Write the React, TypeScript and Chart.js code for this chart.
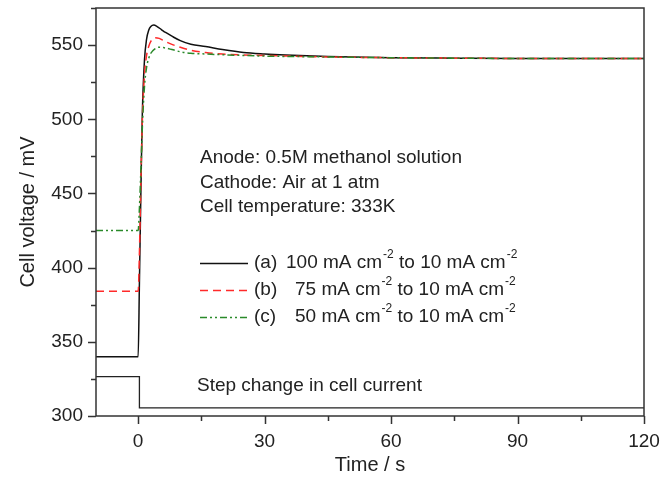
import React, { useEffect, useRef } from "react";
import { Chart, registerables } from "chart.js";

Chart.register(...registerables);

// Data
const timeA = [-10, 0, 0.3, 0.7, 1, 1.5, 2, 2.5, 3, 3.7, 4.5, 5.5, 6.5, 8, 10, 12.5, 16, 20, 25, 30, 35, 45, 60, 75, 90, 105, 120];
const voltA = [340, 340, 390, 460, 505, 540, 554, 560, 562.5, 563.5, 562.5, 560.5, 558.5, 556, 553, 550.5, 549, 547, 545, 544, 543.3, 542.3, 541.5, 541.2, 541, 541, 541];

const timeB = [-10, 0, 0.3, 0.7, 1, 1.5, 2, 2.5, 3, 4, 5, 6, 8, 10, 12.5, 16, 20, 25, 30, 45, 60, 75, 90, 105, 120];
const voltB = [384, 384, 410, 465, 500, 530, 543, 549, 552.5, 555, 554.5, 553, 550.5, 548.5, 546.5, 545, 544, 543.3, 543, 542, 541.5, 541.2, 541, 541, 541];

const timeC = [-10, 0, 0.3, 0.7, 1, 1.5, 2, 2.5, 3, 4, 5, 6, 8, 10, 12.5, 16, 20, 25, 30, 45, 60, 75, 90, 105, 120];
const voltC = [425, 425, 440, 470, 495, 522, 535, 541, 544.5, 547.5, 548.6, 548.3, 547, 545.5, 544.5, 544, 543.5, 543, 542.6, 542, 541.5, 541.2, 541, 541, 541];

const stepTime = [-10, 0.3, 0.3, 120];
const stepLevel = [326.5, 326.5, 305.5, 305.5];

const xMajorTicks = [0, 30, 60, 90, 120];
const xMinorTicks = [15, 45, 75, 105];
const yMajorTicks = [300, 350, 400, 450, 500, 550];
const yMinorTicks = [325, 375, 425, 475, 525, 575];

const seriesLabels = ["(a)", "(b)", "(c)"];
const seriesCurrents = ["100", "75", "50"];
const infoLines = ["Anode: 0.5M methanol solution", "Cathode: Air at 1 atm", "Cell temperature: 333K"];
const stepLabel = "Step change in cell current";

const BLACK = "#111111";
const RED = "#ff2a2a";
const GREEN = "#2a8a2a";
const DASH_B = [8, 5];
const DASH_C = [7, 3, 2, 3, 2, 3];
const FONT = "Arial, 'Liberation Sans', sans-serif";

const toPts = (xs: number[], ys: number[]) => xs.map((x, i) => ({ x, y: ys[i] }));

const overlay = {
  id: "overlay",
  afterDraw(chart: any) {
    const ctx = chart.ctx as CanvasRenderingContext2D;
    const area = chart.chartArea;
    const xs = chart.scales.x;
    const ys = chart.scales.y;
    ctx.save();
    // frame
    ctx.strokeStyle = "#333";
    ctx.lineWidth = 1.5;
    ctx.strokeRect(area.left, area.top, area.right - area.left, area.bottom - area.top);
    // ticks
    ctx.beginPath();
    yMajorTicks.forEach((v) => {
      const p = Math.round(ys.getPixelForValue(v)) + 0.5;
      ctx.moveTo(area.left - 8, p);
      ctx.lineTo(area.left, p);
    });
    yMinorTicks.forEach((v) => {
      const p = Math.round(ys.getPixelForValue(v)) + 0.5;
      ctx.moveTo(area.left - 5, p);
      ctx.lineTo(area.left, p);
    });
    xMajorTicks.forEach((v) => {
      const p = Math.round(xs.getPixelForValue(v)) + 0.5;
      ctx.moveTo(p, area.bottom);
      ctx.lineTo(p, area.bottom + 8);
    });
    xMinorTicks.forEach((v) => {
      const p = Math.round(xs.getPixelForValue(v)) + 0.5;
      ctx.moveTo(p, area.bottom);
      ctx.lineTo(p, area.bottom + 5);
    });
    ctx.stroke();

    // axis titles
    ctx.fillStyle = "#222";
    ctx.font = `20px ${FONT}`;
    ctx.textAlign = "center";
    ctx.textBaseline = "middle";
    ctx.fillText("Time / s", (area.left + area.right) / 2, 465);
    ctx.save();
    ctx.translate(28, (area.top + area.bottom) / 2);
    ctx.rotate(-Math.PI / 2);
    ctx.fillText("Cell voltage / mV", 0, 0);
    ctx.restore();

    // info text
    ctx.textAlign = "left";
    ctx.font = `19px ${FONT}`;
    infoLines.forEach((t, i) => ctx.fillText(t, 200, 158 + i * 24.5));
    ctx.fillText(stepLabel, 197, 386);

    // legend
    const rows = [263, 290, 317];
    const colors = [BLACK, RED, GREEN];
    const dashes: number[][] = [[], DASH_B, DASH_C];
    rows.forEach((y, i) => {
      ctx.save();
      ctx.strokeStyle = colors[i];
      ctx.lineWidth = 1.5;
      ctx.setLineDash(dashes[i]);
      ctx.beginPath();
      ctx.moveTo(200, y + 0.5);
      ctx.lineTo(248, y + 0.5);
      ctx.stroke();
      ctx.restore();
      ctx.fillStyle = "#222";
      ctx.font = `19px ${FONT}`;
      ctx.fillText(seriesLabels[i], 254, y);
      let x = i === 0 ? 286 : 295;
      const parts: [string, boolean][] = [
        [`${seriesCurrents[i]} mA cm`, false],
        ["-2", true],
        [" to 10 mA cm", false],
        ["-2", true],
      ];
      parts.forEach(([s, sup]) => {
        ctx.font = sup ? `12px ${FONT}` : `19px ${FONT}`;
        ctx.fillText(s, x + (sup ? 1 : 0), sup ? y - 8 : y);
        x += ctx.measureText(s).width + (sup ? 1 : 0);
      });
    });
    ctx.restore();
  },
};

export default function App() {
  const ref = useRef<HTMLCanvasElement | null>(null);
  useEffect(() => {
    if (!ref.current) return;
    const chart = new Chart(ref.current, {
      type: "line",
      data: {
        datasets: [
          {
            data: toPts(stepTime, stepLevel),
            borderColor: "#222",
            borderWidth: 1.3,
            pointRadius: 0,
            tension: 0,
          },
          {
            data: toPts(timeC, voltC),
            borderColor: GREEN,
            borderWidth: 1.5,
            borderDash: DASH_C,
            pointRadius: 0,
            cubicInterpolationMode: "monotone",
          },
          {
            data: toPts(timeB, voltB),
            borderColor: RED,
            borderWidth: 1.5,
            borderDash: DASH_B,
            pointRadius: 0,
            cubicInterpolationMode: "monotone",
          },
          {
            data: toPts(timeA, voltA),
            borderColor: BLACK,
            borderWidth: 1.5,
            pointRadius: 0,
            cubicInterpolationMode: "monotone",
          },
        ],
      },
      options: {
        animation: false,
        responsive: true,
        maintainAspectRatio: false,
        layout: { padding: { top: 8, right: 16, left: 0, bottom: 0 } },
        plugins: { legend: { display: false }, tooltip: { enabled: false } },
        scales: {
          x: {
            type: "linear",
            min: -10,
            max: 120,
            afterFit: (s: any) => {
              s.height = 65;
              s.paddingLeft = 0;
              s.paddingRight = 0;
            },
            afterBuildTicks: (s: any) => {
              s.ticks = xMajorTicks.map((v) => ({ value: v }));
            },
            grid: { display: false, drawTicks: false },
            border: { display: false },
            ticks: { padding: 14, color: "#222", font: { size: 19, family: FONT }, maxRotation: 0, autoSkip: false },
          },
          y: {
            type: "linear",
            min: 300,
            max: 575,
            afterFit: (s: any) => {
              s.width = 96;
              s.paddingTop = 0;
              s.paddingBottom = 0;
            },
            afterBuildTicks: (s: any) => {
              s.ticks = yMajorTicks.map((v) => ({ value: v }));
            },
            grid: { display: false, drawTicks: false },
            border: { display: false },
            ticks: { padding: 13, color: "#222", font: { size: 19, family: FONT }, autoSkip: false },
          },
        },
      },
      plugins: [overlay],
    });
    return () => chart.destroy();
  }, []);
  return (
    <div style={{ position: "absolute", left: 0, top: 0, width: 660, height: 481, background: "#fff" }}>
      <canvas ref={ref} />
    </div>
  );
}
